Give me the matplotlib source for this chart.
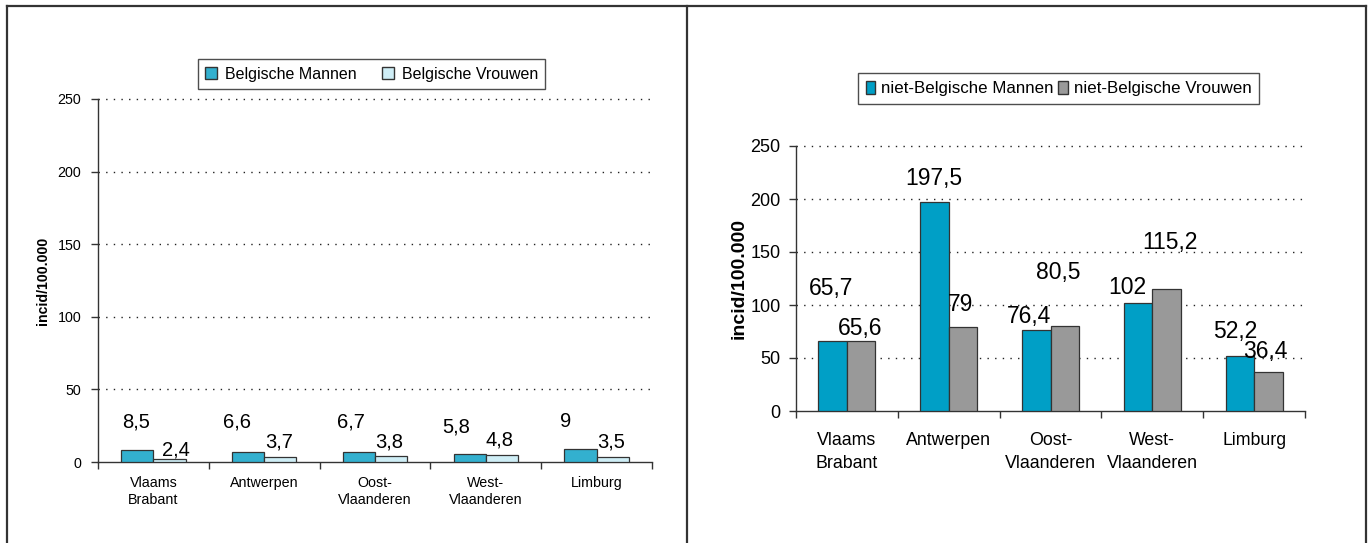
import matplotlib
matplotlib.use("Agg")
import matplotlib.pyplot as plt
import numpy as np
from matplotlib.lines import Line2D
from matplotlib.patches import Patch

# ---------------- data ----------------
categories = ["Vlaams\nBrabant", "Antwerpen", "Oost-\nVlaanderen", "West-\nVlaanderen", "Limburg"]
bel_mannen = [8.5, 6.6, 6.7, 5.8, 9.0]
bel_vrouwen = [2.4, 3.7, 3.8, 4.8, 3.5]
nbel_mannen = [65.7, 197.5, 76.4, 102.0, 52.2]
nbel_vrouwen = [65.6, 79.0, 80.5, 115.2, 36.4]
yticks = [0, 50, 100, 150, 200, 250]
ylabel = "incid/100.000"
left_series = ["Belgische Mannen", "Belgische Vrouwen"]
right_series = ["niet-Belgische Mannen", "niet-Belgische Vrouwen"]

# ---------------- layout (label placement, as in the original) ----------------
# x offset from category centre (category units), y of baseline (data units)
l_m_dx = [-0.154, -0.241, -0.221, -0.269, -0.281]
l_m_y = [24.1, 24.1, 24.1, 20.0, 24.1]
l_v_dx = [0.207, 0.134, 0.126, 0.124, 0.130]
l_v_y = [4.8, 10.3, 10.3, 11.7, 10.3]
r_m_dx = [-0.151, -0.144, -0.211, -0.249, -0.188]
r_m_y = [109.4, 213.2, 83.0, 110.4, 68.9]
r_v_dx = [0.129, 0.121, 0.074, 0.174, 0.107]
r_v_y = [71.7, 94.3, 124.5, 152.8, 50.0]

W, H = 1372, 543
fig = plt.figure(figsize=(W / 100, H / 100), dpi=100)
fig.patch.set_facecolor("white")

def fx(px):
    return px / W

def fy(py):
    return 1 - py / H

# panel frames
frame_kw = dict(color="#333333", linewidth=1.6, transform=fig.transFigure)
fig.add_artist(Line2D([fx(7), fx(1366)], [fy(6), fy(6)], **frame_kw))
fig.add_artist(Line2D([fx(7), fx(7)], [fy(6), 0], **frame_kw))
fig.add_artist(Line2D([fx(687), fx(687)], [fy(6), 0], **frame_kw))
fig.add_artist(Line2D([fx(1366), fx(1366)], [fy(6), 0], **frame_kw))

FAM = "Liberation Sans"

def fmt(v):
    return ("%g" % v).replace(".", ",")

def setup_axes(ax, tickfont, catfont, ylfont, linesp, xpad, ypad):
    n = len(categories)
    x = np.arange(n)
    ax.set_xlim(-0.5, n - 0.5)
    ax.set_ylim(0, 250)
    ax.set_yticks(yticks)
    ax.set_yticklabels([str(t) for t in yticks], fontsize=tickfont, family=FAM)
    ax.set_xticks(x)
    ax.set_xticklabels(categories, fontsize=catfont, family=FAM, linespacing=linesp)
    ax.set_xticks(np.arange(n + 1) - 0.5, minor=True)
    ax.tick_params(axis="x", which="major", length=0, pad=xpad)
    ax.tick_params(axis="x", which="minor", length=5, width=1, color="#333333", direction="out")
    ax.tick_params(axis="y", length=5, width=1, color="#333333", direction="out", pad=ypad)
    for s in ["top", "right"]:
        ax.spines[s].set_visible(False)
    for s in ["left", "bottom"]:
        ax.spines[s].set_color("#333333")
        ax.spines[s].set_linewidth(1.0)
    for t in yticks[1:]:
        ax.axhline(t, color="#222222", linewidth=1.0, linestyle=(0, (1, 4.5)), zorder=0, clip_on=False)
    ax.set_ylabel(ylabel, fontsize=ylfont, fontweight="bold", family=FAM)
    ax.set_facecolor("none")
    return x

# ---------------- left panel ----------------
axL = fig.add_axes([fx(98), fy(462), fx(652) - fx(98), fy(99) - fy(462)])
x = setup_axes(axL, 10.3, 10.3, 10.2, 1.25, 10, 7)
bw = 0.29
cL1, cL2 = "#33B0CF", "#CFEEF6"
axL.bar(x - bw / 2, bel_mannen, bw, color=cL1, edgecolor="#333333", linewidth=0.9, zorder=3)
axL.bar(x + bw / 2, bel_vrouwen, bw, color=cL2, edgecolor="#333333", linewidth=0.9, zorder=3)
for i in range(len(categories)):
    axL.text(i + l_m_dx[i], l_m_y[i], fmt(bel_mannen[i]), ha="center", va="baseline",
             fontsize=14.5, family=FAM)
    axL.text(i + l_v_dx[i], l_v_y[i], fmt(bel_vrouwen[i]), ha="center", va="baseline",
             fontsize=14.5, family=FAM)
axL.yaxis.set_label_coords(-0.087, 0.5)
handlesL = [Patch(facecolor=cL1, edgecolor="#333333", linewidth=1.0),
            Patch(facecolor=cL2, edgecolor="#333333", linewidth=1.0)]
legL = fig.legend(handlesL, left_series, loc="center", bbox_to_anchor=(fx(371.5), fy(74)),
                  ncol=2, frameon=True, fancybox=False, shadow=False, borderpad=0.45,
                  handlelength=0.75, handleheight=0.75, handletextpad=0.5, columnspacing=1.6,
                  prop={"family": FAM, "size": 11.5})
legL.get_frame().set_edgecolor("#222222")
legL.get_frame().set_linewidth(1.0)

# ---------------- right panel ----------------
axR = fig.add_axes([fx(796), fy(411), fx(1305) - fx(796), fy(146) - fy(411)])
x = setup_axes(axR, 13, 12.8, 14, 1.45, 15, 6)
bw = 0.28
cR1, cR2 = "#009FC6", "#999999"
axR.bar(x - bw / 2, nbel_mannen, bw, color=cR1, edgecolor="#333333", linewidth=0.9, zorder=3)
axR.bar(x + bw / 2, nbel_vrouwen, bw, color=cR2, edgecolor="#333333", linewidth=0.9, zorder=3)
for i in range(len(categories)):
    axR.text(i + r_m_dx[i], r_m_y[i], fmt(nbel_mannen[i]), ha="center", va="baseline",
             fontsize=16.5, family=FAM, zorder=5)
    axR.text(i + r_v_dx[i], r_v_y[i], fmt(nbel_vrouwen[i]), ha="center", va="baseline",
             fontsize=16.5, family=FAM, zorder=5)
axR.yaxis.set_label_coords(-0.096, 0.5)
handlesR = [Patch(facecolor=cR1, edgecolor="#333333", linewidth=1.0),
            Patch(facecolor=cR2, edgecolor="#333333", linewidth=1.0)]
legR = fig.legend(handlesR, right_series, loc="center", bbox_to_anchor=(fx(1058.5), fy(88.5)),
                  ncol=2, frameon=True, fancybox=False, shadow=False, borderpad=0.45,
                  handlelength=0.55, handleheight=0.8, handletextpad=0.35, columnspacing=0.3,
                  prop={"family": FAM, "size": 12.2})
legR.get_frame().set_edgecolor("#222222")
legR.get_frame().set_linewidth(1.0)

fig.savefig("out.png", dpi=100, facecolor="white")
